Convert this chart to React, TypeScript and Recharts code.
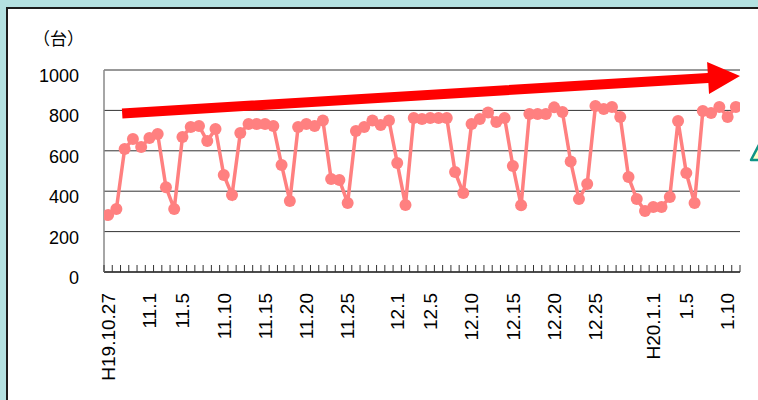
import React from 'react';
import { LineChart, Line, XAxis, YAxis, CartesianGrid, ReferenceLine } from 'recharts';

const dates: string[] = [
  '10/27','10/28','10/29','10/30','10/31',
  '11/1','11/2','11/3','11/4','11/5','11/6','11/7','11/8','11/9','11/10',
  '11/11','11/12','11/13','11/14','11/15','11/16','11/17','11/18','11/19','11/20',
  '11/21','11/22','11/23','11/24','11/25','11/26','11/27','11/28','11/29','11/30',
  '12/1','12/2','12/3','12/4','12/5','12/6','12/7','12/8','12/9','12/10',
  '12/11','12/12','12/13','12/14','12/15','12/16','12/17','12/18','12/19','12/20',
  '12/21','12/22','12/23','12/24','12/25','12/26','12/27','12/28','12/29','12/30','12/31',
  '1/1','1/2','1/3','1/4','1/5','1/6','1/7','1/8','1/9','1/10','1/11',
];

const vehicles: number[] = [
  282, 312, 609, 658, 619, 663, 683, 420, 312, 668,
  718, 723, 648, 708, 480, 381, 688, 733, 733, 733,
  723, 530, 351, 718, 733, 723, 750, 460, 455, 342,
  698, 718, 750, 728, 750, 540, 332, 762, 757, 762,
  762, 762, 495, 391, 733, 757, 790, 743, 762, 525,
  330, 782, 782, 782, 815, 792, 547, 361, 436, 822,
  807, 817, 767, 470, 361, 302, 322, 322, 371, 748,
  490, 342, 797, 787, 817, 767, 817,
];

const xTickDates: string[] = ['10/27','11/1','11/5','11/10','11/15','11/20','11/25','12/1','12/5','12/10','12/15','12/20','12/25','1/1','1/5','1/10'];
const xTickTexts: string[] = ['H19.10.27','11.1','11.5','11.10','11.15','11.20','11.25','12.1','12.5','12.10','12.15','12.20','12.25','H20.1.1','1.5','1.10'];

const yTicks: number[] = [0, 200, 400, 600, 800, 1000];
const yUnit = '（台）';

// trend arrow endpoints (category index, value)
const trendStart = { x: 1.7, y: 785 };
const trendEnd = { x: 76.5, y: 970 };

const data = dates.map((d, i) => ({ idx: i, date: d, v: vehicles[i] }));
const labelIdx: Record<number, string> = {};
xTickDates.forEach((d, k) => { labelIdx[dates.indexOf(d)] = xTickTexts[k]; });
const xTicks: number[] = [];
for (let i = 0; i <= dates.length; i++) {
  xTicks.push(i - 0.5);
  if (i < dates.length && labelIdx[i] !== undefined) xTicks.push(i);
}

const FONT = '"Liberation Sans", Arial, sans-serif';

const XTick = (props: any) => {
  const { x, y, payload } = props;
  const v = payload.value as number;
  if (Math.abs(v - Math.round(v)) > 0.1) {
    return <line x1={x} x2={x} y1={y} y2={y - 7} stroke="#333" strokeWidth={1} />;
  }
  const label = labelIdx[Math.round(v)];
  if (!label) return null;
  const ty = y + 21;
  return (
    <text x={x} y={ty} transform={`rotate(-90, ${x}, ${ty})`} textAnchor="end" dy="0.36em"
      fontSize={19} fontFamily={FONT} fill="#000">{label}</text>
  );
};

const YTick = (props: any) => {
  const { x, y, payload } = props;
  return (
    <text x={x} y={y + 12} textAnchor="end" fontSize={18} fontFamily={FONT} fill="#000">{payload.value}</text>
  );
};

const ArrowShape = (props: any) => {
  const { x1, y1, x2, y2 } = props;
  if ([x1, y1, x2, y2].some((n) => typeof n !== 'number' || isNaN(n))) return null;
  const dx = x2 - x1, dy = y2 - y1;
  const len = Math.hypot(dx, dy);
  const ux = dx / len, uy = dy / len;
  const nx = -uy, ny = ux;
  const headLen = 32, headW = 16, shaftW = 5;
  const bx = x2 - ux * headLen, by = y2 - uy * headLen;
  const pts = [
    [x1 + nx * shaftW, y1 + ny * shaftW],
    [bx + nx * shaftW, by + ny * shaftW],
    [bx + nx * headW, by + ny * headW],
    [x2, y2],
    [bx - nx * headW, by - ny * headW],
    [bx - nx * shaftW, by - ny * shaftW],
    [x1 - nx * shaftW, y1 - ny * shaftW],
  ].map((p) => p.join(',')).join(' ');
  return <polygon points={pts} fill="#ff0000" />;
};

export default function App() {
  return (
    <div style={{ position: 'relative', width: 758, height: 400, overflow: 'hidden', background: '#b4e1e1' }}>
      <style>{'body{margin:0}'}</style>
      <div style={{ position: 'absolute', left: 6, top: 7, width: 820, height: 460, background: '#fff', border: '2px solid #1c1c1c' }} />
      <div style={{ position: 'absolute', left: 33, top: 26, fontSize: 17, fontFamily: '"Noto Sans CJK JP", sans-serif', color: '#000', lineHeight: '24px' }}>{yUnit}</div>
      <svg style={{ position: 'absolute', left: 749, top: 140 }} width={20} height={24}>
        <polygon points="2,20 11,3 20,20" fill="#ffffc8" stroke="#0f9486" strokeWidth={2.5} strokeLinejoin="round" />
      </svg>
      <div style={{ position: 'absolute', left: 0, top: 0 }}>
        <LineChart width={758} height={400} data={data} margin={{ top: 70, right: 18, left: 44, bottom: 98 }}>
          <CartesianGrid horizontal vertical={false} stroke="#333" strokeWidth={1} />
          <XAxis dataKey="idx" type="number" domain={[-0.5, dates.length - 0.5]} ticks={xTicks} interval={0}
            height={30} tickLine={false} tickSize={0} tickMargin={0} tick={<XTick />}
            axisLine={{ stroke: '#000', strokeWidth: 1.2 }} allowDataOverflow />
          <YAxis type="number" domain={[0, 1000]} ticks={yTicks} interval={0} width={60}
            tickLine={false} tickSize={0} tickMargin={25} tick={<YTick />}
            axisLine={{ stroke: '#888', strokeWidth: 1.5 }} />
          <ReferenceLine segment={[trendStart, trendEnd]} ifOverflow="visible" shape={ArrowShape} />
          <Line type="linear" dataKey="v" stroke="#ff8080" strokeWidth={3.5}
            dot={{ r: 6, fill: '#ff8080', stroke: '#ff8080', strokeWidth: 0 }}
            activeDot={false} isAnimationActive={false} />
        </LineChart>
      </div>
    </div>
  );
}
